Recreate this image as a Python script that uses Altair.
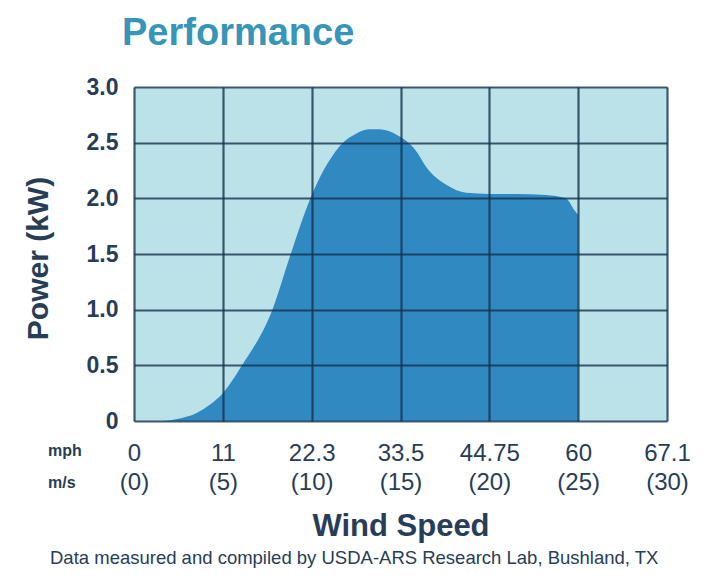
import altair as alt
import pandas as pd

# Power curve (wind speed in m/s, power in kW)
wind_ms = [0, 1.6, 2.5, 3.5, 4.3, 5, 6.08, 7.79, 8.82, 9.93, 10.5, 11,
           11.7, 12.5, 13.2, 13.8, 14.4, 15, 15.7, 16.6, 17.6, 18.7, 20, 21.5, 23.2,
           24.3, 24.8, 25]
power_kw = [0, 0, 0.02, 0.07, 0.15, 0.25, 0.5, 1.0, 1.5, 2.0, 2.2,
            2.34, 2.49, 2.58, 2.62, 2.62, 2.6, 2.55, 2.46, 2.25, 2.12, 2.05, 2.04,
            2.04, 2.03, 2.0, 1.89, 1.85]

x_ticks = [0, 5, 10, 15, 20, 25, 30]
mph_labels = ["0", "11", "22.3", "33.5", "44.75", "60", "67.1"]
ms_labels = ["(0)", "(5)", "(10)", "(15)", "(20)", "(25)", "(30)"]
y_ticks = [0, 0.5, 1.0, 1.5, 2.0, 2.5, 3.0]

title_text = "Performance"
footer_text = "Data measured and compiled by USDA-ARS Research Lab, Bushland, TX"

df = pd.DataFrame({"ms": wind_ms, "kw": power_kw})

FONT = "Liberation Sans"
TXT = "#283d56"
GRID = "#14324e"

mph_js = "[" + ",".join("'%s'" % s for s in mph_labels) + "]"
ms_js = "[" + ",".join("'%s'" % s for s in ms_labels) + "]"
x_label_expr = "[%s[datum.value/5], %s[datum.value/5]]" % (mph_js, ms_js)

area = alt.Chart(df).mark_area(color="#3189c2", interpolate="monotone").encode(
    x=alt.X(
        "ms:Q",
        scale=alt.Scale(domain=[0, 30], nice=False, zero=True),
        axis=alt.Axis(
            values=x_ticks,
            labelExpr=x_label_expr,
            labelFont=FONT,
            labelFontSize=24,
            labelColor=TXT,
            labelPadding=20,
            labelLineHeight=29,
            labelOverlap=False,
            labelFlush=False,
            tickSize=0,
            domain=False,
            grid=True,
            gridColor=GRID,
            gridOpacity=0.8,
            gridWidth=2.2,
            zindex=1,
            title="Wind Speed",
            titleFont=FONT,
            titleFontSize=31,
            titleFontWeight="bold",
            titleColor=TXT,
            titleY=114,
            titleBaseline="alphabetic",
        ),
    ),
    y=alt.Y(
        "kw:Q",
        scale=alt.Scale(domain=[0, 3], nice=False),
        axis=alt.Axis(
            values=y_ticks,
            labelExpr="datum.value == 0 ? '0' : format(datum.value, '.1f')",
            labelFont=FONT,
            labelFontSize=23,
            labelFontWeight="bold",
            labelColor=TXT,
            labelPadding=16,
            labelFlush=False,
            tickSize=0,
            domain=False,
            grid=True,
            gridColor=GRID,
            gridOpacity=0.8,
            gridWidth=2.2,
            zindex=1,
            title="Power (kW)",
            titleFont=FONT,
            titleFontSize=30,
            titleFontWeight="bold",
            titleColor=TXT,
            titleAngle=270,
            titleX=-96,
            titleY=171,
            titleAlign="center",
            titleBaseline="middle",
        ),
    ),
)

title = alt.Chart(pd.DataFrame({"t": [title_text]})).mark_text(
    font=FONT, fontSize=38, fontWeight="bold", color="#3796b8",
    align="left", baseline="alphabetic"
).encode(text="t:N", x=alt.value(-12), y=alt.value(-42))

mph_lab = alt.Chart(pd.DataFrame({"t": ["mph"]})).mark_text(
    font=FONT, fontSize=16, fontWeight="bold", color=TXT,
    align="left", baseline="alphabetic"
).encode(text="t:N", x=alt.value(-86), y=alt.value(369))

ms_lab = alt.Chart(pd.DataFrame({"t": ["m/s"]})).mark_text(
    font=FONT, fontSize=16, fontWeight="bold", color=TXT,
    align="left", baseline="alphabetic"
).encode(text="t:N", x=alt.value(-86), y=alt.value(401))

footer = alt.Chart(pd.DataFrame({"t": [footer_text]})).mark_text(
    font=FONT, fontSize=18.5, color=TXT,
    align="left", baseline="alphabetic"
).encode(text="t:N", x=alt.value(-84), y=alt.value(477))

chart = alt.layer(area, title, mph_lab, ms_lab, footer).properties(
    width=533,
    height=334,
    autosize="none",
    padding={"left": 126, "top": 79, "right": 46, "bottom": 151},
    background="white",
).configure_view(fill="#bce2e9", stroke="transparent")

chart.save("out.html", embed_options={"renderer": "svg", "actions": False})
